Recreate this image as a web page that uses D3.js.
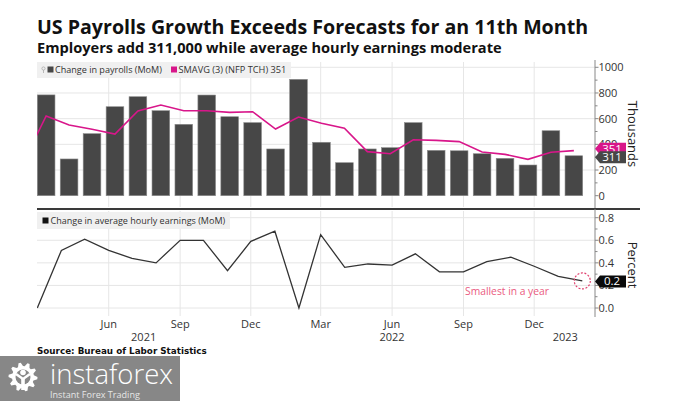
<!DOCTYPE html>
<html><head><meta charset="utf-8">
<script src="https://cdn.jsdelivr.net/npm/d3@7/dist/d3.min.js"></script>
<style>html,body{margin:0;padding:0;background:#fff;}svg{display:block;}</style>
</head><body>
<svg id="c" width="675" height="401"></svg>
<script>
// ---------- DATA ----------
const months = ["2021-03","2021-04","2021-05","2021-06","2021-07","2021-08","2021-09","2021-10","2021-11","2021-12",
  "2022-01","2022-02","2022-03","2022-04","2022-05","2022-06","2022-07","2022-08","2022-09","2022-10","2022-11","2022-12",
  "2023-01","2023-02"];
const payrolls = [785,286,483,693,771,662,556,784,615,569,364,906,416,257,364,374,569,353,350,327,291,239,506,311];
const smavg = [621,551,517,480,660,706,662,662,649,654,519,613,564,525,343,327,436,431,421,340,322,283,338,351];
const smavgPrior = 258; // Feb 2021, only partly visible at left edge
const earnings = [0.00,0.51,0.61,0.51,0.44,0.40,0.60,0.60,0.33,0.59,0.68,0.00,0.65,0.36,0.39,0.38,0.48,0.32,0.32,0.41,0.45,0.37,0.28,0.24];
const monthTicks = ["2021-06","2021-09","2021-12","2022-03","2022-06","2022-09","2022-12"];
const monthTickLabels = ["Jun","Sep","Dec","Mar","Jun","Sep","Dec"];
const yearLabels = ["2021","2022","2023"];
const yearLabelDates = ["2021-07-16","2022-06-01","2023-01-10"];
const payTicks = [0,200,400,600,800,1000];
const earnTicks = [0,0.2,0.4,0.6,0.8];

// ---------- SETUP ----------
const svg = d3.select("#c");
const parseM = d3.timeParse("%Y-%m");
const parseD = d3.timeParse("%Y-%m-%d");
const dates = months.map(parseM);
const L = 37, R = 595;
const FONT = "'Open Sans', 'Noto Sans', sans-serif";

function fit(sel, w) {
  const n = sel.node();
  const fs = parseFloat(sel.attr("font-size"));
  const len = n.getComputedTextLength();
  sel.attr("font-size", (fs * w / len).toFixed(2));
  return sel;
}

const xT = d3.scaleTime().domain([dates[0], dates[dates.length - 1]]).range([37.3, 582.3]);
const xB = d3.scaleBand().domain(months).range([37.3, 582.7]).paddingInner(0.23).paddingOuter(0);
const yP = d3.scaleLinear().domain([0, 1000]).range([195.7, 67.3]);
const yE = d3.scaleLinear().domain([0, 0.8]).range([308, 217.7]);

const defs = svg.append("defs");
defs.append("clipPath").attr("id", "clipTop").append("rect").attr("x", L).attr("y", 55).attr("width", R - L).attr("height", 150);
defs.append("clipPath").attr("id", "clipBot").append("rect").attr("x", L).attr("y", 210).attr("width", R - L).attr("height", 110);

// ---------- TITLES ----------
fit(svg.append("text").attr("x", 37).attr("y", 34).attr("font-family", FONT).attr("font-weight", 700)
  .attr("font-size", 20).attr("fill", "#111").text("US Payrolls Growth Exceeds Forecasts for an 11th Month"), 551);
fit(svg.append("text").attr("x", 37).attr("y", 53).attr("font-family", FONT).attr("font-weight", 700)
  .attr("font-size", 14).attr("fill", "#111").text("Employers add 311,000 while average hourly earnings moderate"), 465);

// ---------- TOP PANEL ----------
const gridC = "#e6e6e6";
const gTop = svg.append("g");
gTop.selectAll(".hg").data(payTicks.slice(1)).join("line")
  .attr("x1", L).attr("x2", R).attr("y1", d => yP(d)).attr("y2", d => yP(d)).attr("stroke", gridC).attr("stroke-width", 1);
gTop.selectAll(".vg").data(monthTicks.map(parseM)).join("line")
  .attr("x1", d => xT(d)).attr("x2", d => xT(d)).attr("y1", 62).attr("y2", 207).attr("stroke", gridC).attr("stroke-width", 1);

gTop.append("g").selectAll("rect").data(payrolls).join("rect")
  .attr("x", (d, i) => xB(months[i])).attr("width", xB.bandwidth())
  .attr("y", d => yP(d)).attr("height", d => yP(0) - yP(d))
  .attr("fill", "#474747").attr("stroke", "#8c8c8c").attr("stroke-width", 0.6);

const smaPts = [[xB(months[0]) + xB.bandwidth() / 2 - xB.step(), smavgPrior]]
  .concat(smavg.map((v, i) => [xB(months[i]) + xB.bandwidth() / 2, v]));
gTop.append("path").attr("clip-path", "url(#clipTop)")
  .attr("d", d3.line().x(d => d[0]).y(d => yP(d[1]))(smaPts))
  .attr("fill", "none").attr("stroke", "#d8168a").attr("stroke-width", 1.6);

// legend top
gTop.append("rect").attr("x", 37).attr("y", 62).attr("width", 254).attr("height", 16).attr("fill", "#f0f0f0");
gTop.append("circle").attr("cx", 43.5).attr("cy", 68.5).attr("r", 1.6).attr("fill", "none").attr("stroke", "#aaa").attr("stroke-width", 0.8);
gTop.append("line").attr("x1", 43.5).attr("x2", 43.5).attr("y1", 70).attr("y2", 73).attr("stroke", "#aaa").attr("stroke-width", 0.8);
gTop.append("rect").attr("x", 47.5).attr("y", 66.5).attr("width", 6).attr("height", 6).attr("fill", "#474747");
fit(gTop.append("text").attr("x", 55).attr("y", 73.3).attr("font-family", FONT).attr("font-size", 9)
  .attr("fill", "#333").text("Change in payrolls (MoM)"), 107);
gTop.append("rect").attr("x", 171).attr("y", 66.5).attr("width", 6).attr("height", 6).attr("fill", "#d8168a");
fit(gTop.append("text").attr("x", 178.5).attr("y", 73.3).attr("font-family", FONT).attr("font-size", 9)
  .attr("fill", "#333").text("SMAVG (3) (NFP TCH) 351"), 108);

// right axis top
const axC = "#888";
gTop.append("line").attr("x1", R).attr("x2", R).attr("y1", 60).attr("y2", 209).attr("stroke", axC).attr("stroke-width", 1);
gTop.selectAll(".mt").data(d3.range(0, 1001, 100)).join("line")
  .attr("x1", R).attr("x2", d => R + (d % 200 === 0 ? 3.5 : 2.5)).attr("y1", d => yP(d)).attr("y2", d => yP(d))
  .attr("stroke", axC).attr("stroke-width", 1);
gTop.selectAll(".tl").data(payTicks).join("text")
  .attr("x", 598.5).attr("y", d => yP(d) + 4).attr("font-family", FONT).attr("font-size", 11).attr("fill", "#333")
  .text(d => d);
gTop.append("text").attr("transform", `translate(628,134) rotate(90)`).attr("text-anchor", "middle")
  .attr("font-family", FONT).attr("font-size", 13).attr("fill", "#222").text("Thousands");

function tag(g, cy, fill, label) {
  g.append("path").attr("d", `M${R},${cy} L${R + 5},${cy - 6} L626,${cy - 6} L626,${cy + 6} L${R + 5},${cy + 6} Z`)
    .attr("fill", fill);
  g.append("text").attr("x", 612).attr("y", cy + 4).attr("text-anchor", "middle").attr("font-family", FONT)
    .attr("font-size", 11.5).attr("fill", "#fff").text(label);
}
tag(gTop, yP(smavg[smavg.length - 1]) - 2, "#d8168a", String(smavg[smavg.length - 1]));
tag(gTop, yP(payrolls[payrolls.length - 1]) + 1.5, "#474747", String(payrolls[payrolls.length - 1]));

// separator
svg.append("line").attr("x1", 37).attr("x2", 640).attr("y1", 209).attr("y2", 209).attr("stroke", "#3a3a3a").attr("stroke-width", 2.2);

// ---------- BOTTOM PANEL ----------
const gBot = svg.append("g");
gBot.selectAll(".hg").data(earnTicks).join("line")
  .attr("x1", L).attr("x2", R).attr("y1", d => yE(d)).attr("y2", d => yE(d)).attr("stroke", gridC).attr("stroke-width", 1);
gBot.selectAll(".vg").data(monthTicks.map(parseM)).join("line")
  .attr("x1", d => xT(d)).attr("x2", d => xT(d)).attr("y1", 211).attr("y2", 316).attr("stroke", gridC).attr("stroke-width", 1);

gBot.append("rect").attr("x", 37).attr("y", 212).attr("width", 193).attr("height", 17).attr("fill", "#f0f0f0");
gBot.append("rect").attr("x", 42.5).attr("y", 217.5).attr("width", 6).attr("height", 6).attr("fill", "#111");
fit(gBot.append("text").attr("x", 50.5).attr("y", 224.3).attr("font-family", FONT).attr("font-size", 9)
  .attr("fill", "#333").text("Change in average hourly earnings (MoM)"), 175);

gBot.append("path").attr("clip-path", "url(#clipBot)")
  .attr("d", d3.line().x((d, i) => xT(dates[i])).y(d => yE(d))(earnings))
  .attr("fill", "none").attr("stroke", "#333").attr("stroke-width", 1.3);

gBot.append("line").attr("x1", R).attr("x2", R).attr("y1", 209).attr("y2", 317).attr("stroke", axC).attr("stroke-width", 1);
gBot.selectAll(".mt").data(d3.range(0, 9).map(d => d / 10)).join("line")
  .attr("x1", R).attr("x2", (d, i) => R + (i % 2 === 0 ? 3.5 : 2.5)).attr("y1", d => yE(d)).attr("y2", d => yE(d))
  .attr("stroke", axC).attr("stroke-width", 1);
gBot.selectAll(".tl").data(earnTicks).join("text")
  .attr("x", 598.5).attr("y", d => yE(d) + 4).attr("font-family", FONT).attr("font-size", 11).attr("fill", "#333")
  .text(d => d3.format(".1f")(d));
gBot.append("text").attr("transform", `translate(628,265) rotate(90)`).attr("text-anchor", "middle")
  .attr("font-family", FONT).attr("font-size", 13).attr("fill", "#222").text("Percent");

const lastE = earnings[earnings.length - 1];
tag(gBot, yE(lastE) + 0.5, "#0a0a0a", d3.format(".1f")(lastE));

// annotation
gBot.append("circle").attr("cx", xT(dates[dates.length - 1])).attr("cy", yE(lastE)).attr("r", 8)
  .attr("fill", "none").attr("stroke", "#e0406e").attr("stroke-width", 1.2).attr("stroke-dasharray", "2,1.6");
fit(gBot.append("text").attr("x", 465).attr("y", 295).attr("font-family", FONT).attr("font-size", 11)
  .attr("fill", "#ea5a80").text("Smallest in a year"), 84);

// x axis labels
svg.selectAll(".ml").data(monthTicks).join("text")
  .attr("x", d => xT(parseM(d))).attr("y", 328).attr("text-anchor", "middle").attr("font-family", FONT)
  .attr("font-size", 11).attr("fill", "#333").text((d, i) => monthTickLabels[i]);
svg.selectAll(".yl").data(yearLabels).join("text")
  .attr("x", (d, i) => xT(parseD(yearLabelDates[i]))).attr("y", 341).attr("text-anchor", "middle").attr("font-family", FONT)
  .attr("font-size", 11).attr("fill", "#333").text(d => d);

fit(svg.append("text").attr("x", 37).attr("y", 354).attr("font-family", "'DejaVu Sans', sans-serif").attr("font-weight", 700)
  .attr("font-size", 9).attr("fill", "#111").text("Source: Bureau of Labor Statistics"), 170);

// ---------- WATERMARK ----------
const wm = svg.append("g");
wm.append("rect").attr("x", 0).attr("y", 356).attr("width", 180).attr("height", 45).attr("fill", "#878787");
const gc = [23, 377];
const teeth = 10, rO = 14.5, rI = 11;
let gp = "";
for (let k = 0; k < teeth * 4; k++) {
  const a = (k / (teeth * 4)) * 2 * Math.PI;
  const r = (Math.floor(k / 2) % 2 === 0) ? rO : rI;
  gp += (k === 0 ? "M" : "L") + (gc[0] + r * Math.cos(a)).toFixed(2) + "," + (gc[1] + r * Math.sin(a)).toFixed(2);
}
wm.append("path").attr("d", gp + "Z").attr("fill", "#fff");
wm.append("circle").attr("cx", gc[0]).attr("cy", gc[1]).attr("r", 7.5).attr("fill", "#878787");
wm.append("circle").attr("cx", gc[0]).attr("cy", gc[1] - 4.5).attr("r", 2.8).attr("fill", "#fff");
wm.append("path").attr("d", `M${gc[0]-7},${gc[1]-3} L${gc[0]},${gc[1]+2} L${gc[0]+7},${gc[1]-3}`)
  .attr("fill", "none").attr("stroke", "#fff").attr("stroke-width", 2.6);
wm.append("rect").attr("x", gc[0] - 1.8).attr("y", gc[1] + 1).attr("width", 3.6).attr("height", 12).attr("fill", "#fff");
fit(wm.append("text").attr("x", 50).attr("y", 384).attr("font-family", FONT).attr("font-weight", 300)
  .attr("font-size", 30).attr("fill", "#fff").text("instaforex"), 123);
fit(wm.append("text").attr("x", 50).attr("y", 397.5).attr("font-family", FONT)
  .attr("font-size", 11).attr("fill", "#e6e6e6").text("Instant Forex Trading"), 90);
</script>
</body></html>
